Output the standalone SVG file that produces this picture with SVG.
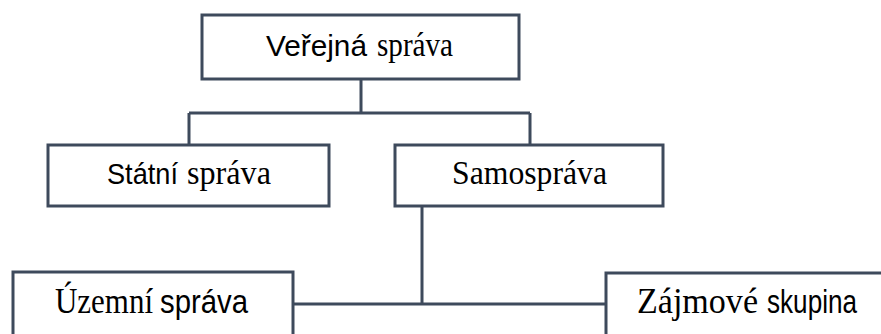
<svg xmlns="http://www.w3.org/2000/svg" width="881" height="334" viewBox="0 0 881 334">
<style>
.box{fill:#fff;stroke:#3e4a5c;stroke-width:3}
.con{fill:none;stroke:#3e4a5c;stroke-width:3}
text{fill:#000}
.sans{font-family:"Liberation Sans","Open Sans",sans-serif;font-size:30px}
.serif{font-family:"Liberation Serif","DejaVu Serif",serif;font-size:34px}
.bs{font-size:34px}
.bb{font-size:35px}
</style>
<rect width="881" height="334" fill="#fff"/>
<g id="connectors">
<path class="con" d="M361 79V113M189 113H530M189 113V145M530 113V145"/>
<path class="con" d="M422 206V304M293 304H606"/>
</g>
<g id="verejna">
<rect class="box" x="202" y="15" width="317" height="64"/>
<text y="56"><tspan class="sans" x="266" textLength="101" lengthAdjust="spacingAndGlyphs">Veřejná</tspan><tspan class="serif" x="377" textLength="76" lengthAdjust="spacingAndGlyphs">správa</tspan></text>
</g>
<g id="statni">
<rect class="box" x="48" y="145" width="281" height="61"/>
<text y="184"><tspan class="sans" x="107" textLength="71" lengthAdjust="spacingAndGlyphs">Státní</tspan><tspan class="serif" x="187" textLength="84" lengthAdjust="spacingAndGlyphs">správa</tspan></text>
</g>
<g id="samosprava">
<rect class="box" x="395" y="145" width="268" height="61"/>
<text class="serif" x="452" y="184" textLength="155" lengthAdjust="spacingAndGlyphs">Samospráva</text>
</g>
<g id="uzemni">
<rect class="box" x="13" y="272" width="280" height="80"/>
<text y="313"><tspan class="serif bb" x="55" textLength="98" lengthAdjust="spacingAndGlyphs">Územní</tspan><tspan class="sans bs" x="160" textLength="88" lengthAdjust="spacingAndGlyphs">správa</tspan></text>
</g>
<g id="zajmove">
<rect class="box" x="606" y="273" width="290" height="80"/>
<text y="313"><tspan class="serif bb" x="637" textLength="121" lengthAdjust="spacingAndGlyphs">Zájmové</tspan><tspan class="sans bs" x="767" textLength="90" lengthAdjust="spacingAndGlyphs">skupina</tspan></text>
</g>
</svg>
